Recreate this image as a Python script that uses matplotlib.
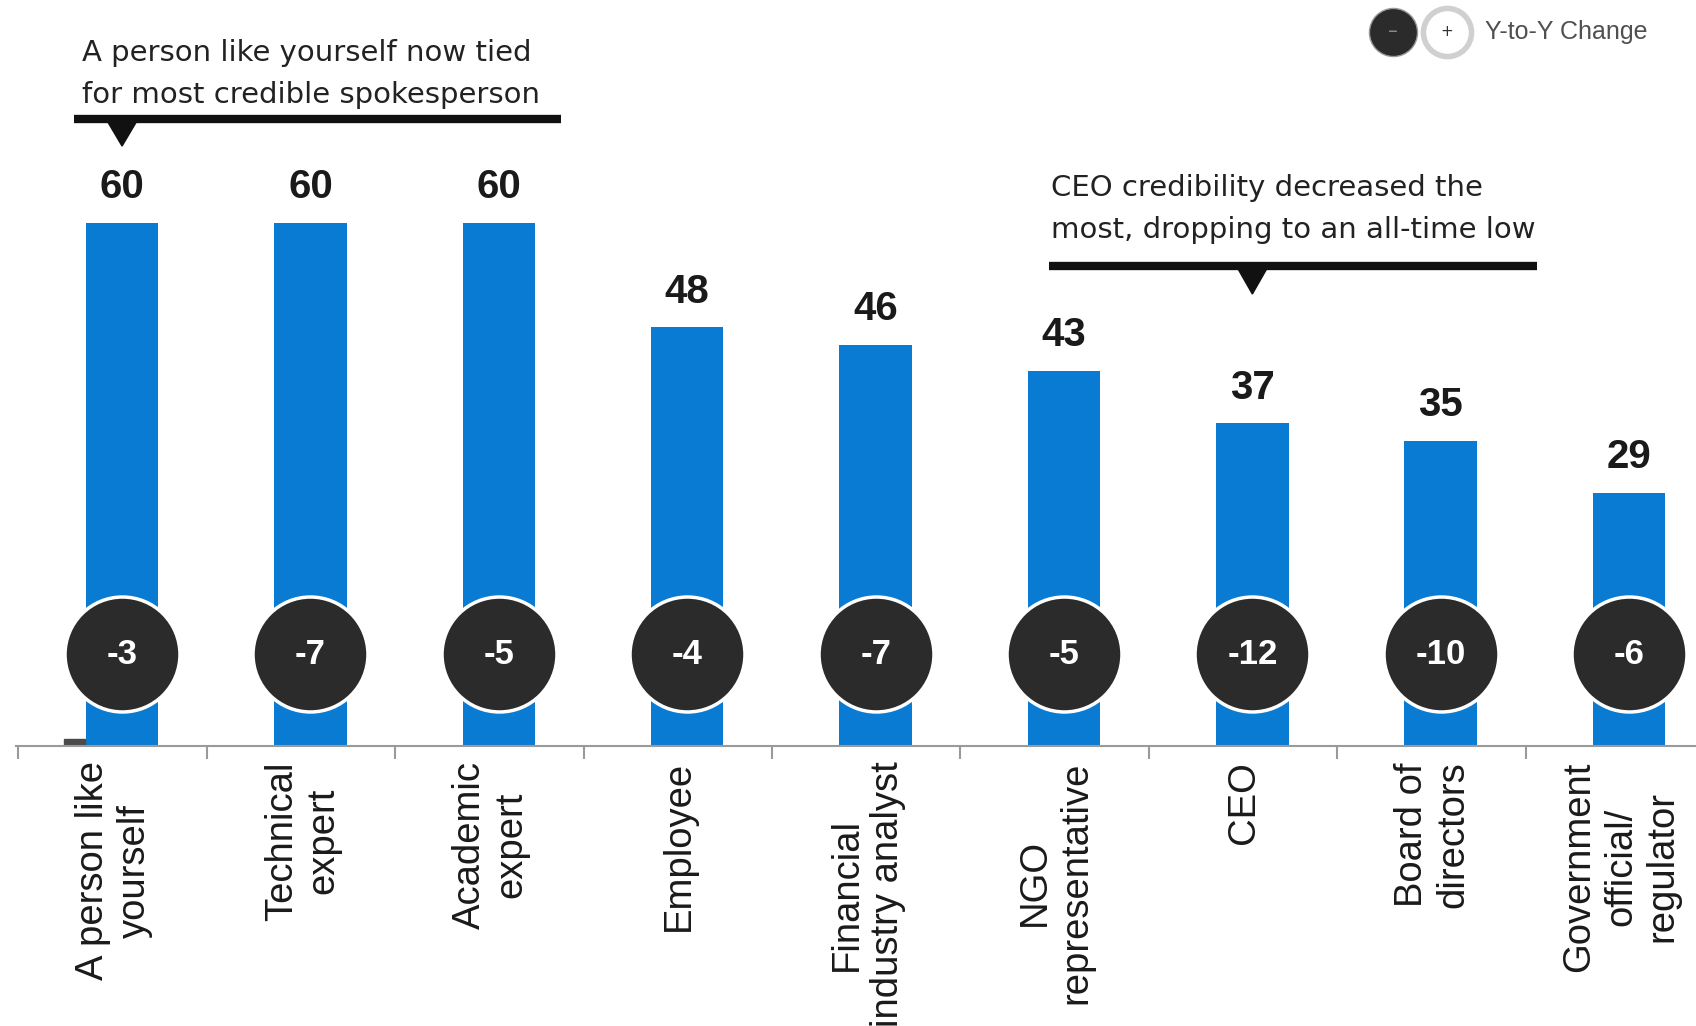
import matplotlib.pyplot as plt
from matplotlib.patches import Polygon, Rectangle
import matplotlib.transforms as mtransforms
import numpy as np

categories = ['A person like\nyourself', 'Technical\nexpert', 'Academic\nexpert', 'Employee',
              'Financial\nindustry analyst', 'NGO\nrepresentative', 'CEO', 'Board of\ndirectors',
              'Government\nofficial/\nregulator']
credibility = [60, 60, 60, 48, 46, 43, 37, 35, 29]
yoy_change = [-3, -7, -5, -4, -7, -5, -12, -10, -6]

note_left = 'A person like yourself now tied\nfor most credible spokesperson'
note_right = 'CEO credibility decreased the\nmost, dropping to an all-time low'

bar_color = '#0a7bd2'
bubble_color = '#2b2b2b'
narrow = ['Liberation Sans Narrow', 'Liberation Sans']

fig = plt.figure(figsize=(16.96, 10.26), dpi=100)
ax = fig.add_axes([16 / 1696, 1 - 746 / 1026, 1 - 16 / 1696, 746 / 1026])
x = np.arange(len(categories))

ax.bar(x, credibility, width=0.385, color=bar_color, zorder=2)
ax.add_patch(Rectangle((-0.308, 0), 0.11, 0.8, color='#4a4a4a', zorder=2))

ax.set_xlim(-0.563, 8.355)
ax.set_ylim(0, 85.55)

# axis styling: only the baseline with small downward ticks between bars
for side in ['left', 'right', 'top']:
    ax.spines[side].set_visible(False)
ax.spines['bottom'].set_color('#9a9a9a')
ax.spines['bottom'].set_linewidth(1.5)
ax.set_yticks([])
ax.set_xticks(x, categories, rotation=90, fontsize=27.5, family='Liberation Sans', color='#1a1a1a')
ax.set_xticks(x - 0.55, minor=True)
ax.tick_params(axis='x', which='major', length=0, pad=11)
ax.tick_params(axis='x', which='minor', length=9, width=1.5, color='#9a9a9a', direction='out')
shift = mtransforms.ScaledTranslation(-0.08, 0, fig.dpi_scale_trans)
for lbl in ax.get_xticklabels():
    lbl.set_transform(lbl.get_transform() + shift)

# value labels above bars
for xi, v in zip(x, credibility):
    ax.annotate(str(v), (xi, v), xytext=(0, 12), textcoords='offset points',
                ha='center', va='bottom', fontsize=29, fontweight='bold',
                family=narrow, color='#1a1a1a')

# year-over-year change bubbles
bubble_y = 10.5
ax.scatter(x, [bubble_y] * len(x), s=6850, c=bubble_color, edgecolors='white',
           linewidths=2.5, zorder=3)
for xi, c in zip(x, yoy_change):
    ax.text(xi, bubble_y, f'{c}', ha='center', va='center', color='white',
            fontsize=25, fontweight='bold', family=narrow, zorder=4)

# callouts
ax.text(-0.21, 77.1, note_left, ha='left', va='center', fontsize=21,
        linespacing=1.65, color='#222222')
ax.plot([-0.255, 2.33], [71.9, 71.9], color='#111111', lw=6, solid_capstyle='butt')
ax.add_patch(Polygon([(-0.085, 71.9), (0.085, 71.9), (0, 68.8)], closed=True, color='#111111'))

ax.text(4.93, 61.6, note_right, ha='left', va='center', fontsize=21,
        linespacing=1.65, color='#222222')
ax.plot([4.92, 7.51], [55.05, 55.05], color='#111111', lw=6, solid_capstyle='butt')
ax.add_patch(Polygon([(5.915, 55.05), (6.085, 55.05), (6, 51.83)], closed=True, color='#111111'))

# legend for the change bubbles
ax.scatter([6.746], [81.9], s=1200, c=bubble_color, edgecolors='#999999', linewidths=1, zorder=3)
ax.text(6.746, 81.9, '\u2013', ha='center', va='center', color='#888888', fontsize=14, zorder=4)
ax.scatter([7.033], [81.9], s=1200, c='white', edgecolors='#d0d0d0', linewidths=4, zorder=3)
ax.text(7.033, 81.9, '+', ha='center', va='center', color='#333333', fontsize=11, zorder=4)
ax.text(7.235, 81.9, 'Y-to-Y Change', ha='left', va='center', fontsize=18,
        family=narrow, color='#505050')

fig.savefig('out.png', dpi=100)
